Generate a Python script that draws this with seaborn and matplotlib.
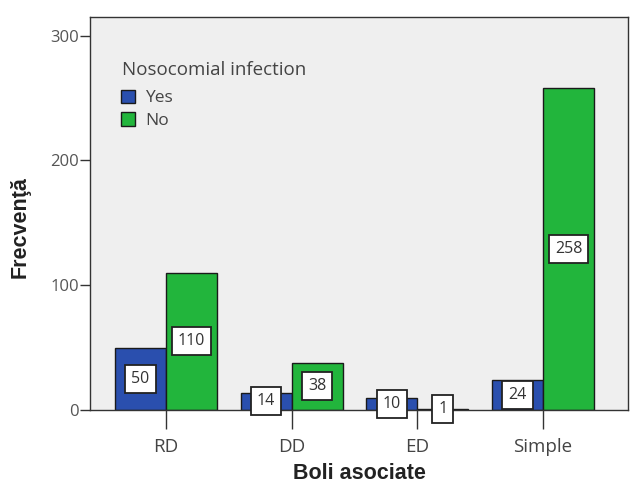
import matplotlib
matplotlib.use("Agg")
import matplotlib.pyplot as plt
import seaborn as sns
import pandas as pd

categories = ["RD", "DD", "ED", "Simple"]
yes_values = [50, 14, 10, 24]
no_values = [110, 38, 1, 258]
series_names = ["Yes", "No"]
y_ticks = [0, 100, 200, 300]

df = pd.DataFrame({
    "cat": categories * 2,
    "grp": [series_names[0]] * 4 + [series_names[1]] * 4,
    "val": yes_values + no_values,
})

sns.set_theme(style="white")
plt.rcParams['font.family'] = ['Open Sans', 'DejaVu Sans']

fig = plt.figure(figsize=(6.41, 4.84), dpi=100)
ax = fig.add_axes([90/641, 1 - 410/484, (628-90)/641, (410-17)/484])
ax.set_facecolor("#efefef")

palette = {"Yes": "#2a4fae", "No": "#22b53c"}
sns.barplot(data=df, x="cat", y="val", hue="grp", order=categories,
            hue_order=series_names, palette=palette, width=0.81,
            edgecolor="#1a1a1a", linewidth=1.0, saturation=1, ax=ax)

for cont in ax.containers:
    for rect in cont:
        h = rect.get_height()
        cx = rect.get_x() + rect.get_width() / 2
        ax.text(cx, h / 2, f"{int(round(h))}", ha="center", va="center",
                fontsize=11.5, color="#333333",
                bbox=dict(boxstyle="square,pad=0.38", fc="white", ec="#222222", lw=1.3))

ax.set_ylim(0, 315)
ax.set_xlim(-0.603, 3.675)
ax.set_yticks(y_ticks)
ax.set_yticklabels([str(t) for t in y_ticks], color="#555555", fontsize=12)
ax.set_xticks(range(len(categories)))
ax.set_xticklabels(categories, color="#444444", fontsize=13.5)
ax.tick_params(axis="both", which="both", direction="out", length=7, width=1, color="#333333", bottom=True, left=True)
ax.tick_params(axis="y", pad=1)
ax.tick_params(axis="x", length=14, pad=6)
for s in ax.spines.values():
    s.set_color("#333333")
    s.set_linewidth(1)

ax.set_ylabel("Frecvenţă", fontsize=15.5, fontweight="bold", family=["Liberation Sans", "DejaVu Sans"], color="#222222")
ax.yaxis.set_label_coords(-0.11, 0.465)
ax.set_xlabel("Boli asociate", fontsize=15.5, fontweight="bold", family=["Liberation Sans", "DejaVu Sans"], color="#222222", labelpad=5)

ax.text(0.06, 0.865, "Nosocomial infection", transform=ax.transAxes, fontsize=13.5,
        color="#444444", ha="left", va="center")
leg = ax.legend(loc="upper left", bbox_to_anchor=(0.058, 0.815),
                frameon=False, fontsize=12.5, handlelength=0.8, handleheight=0.8,
                handletextpad=0.6, labelspacing=0.35, borderpad=0, borderaxespad=0)
for t in leg.get_texts():
    t.set_color("#444444")

fig.savefig("out.png", dpi=100, facecolor="white")
